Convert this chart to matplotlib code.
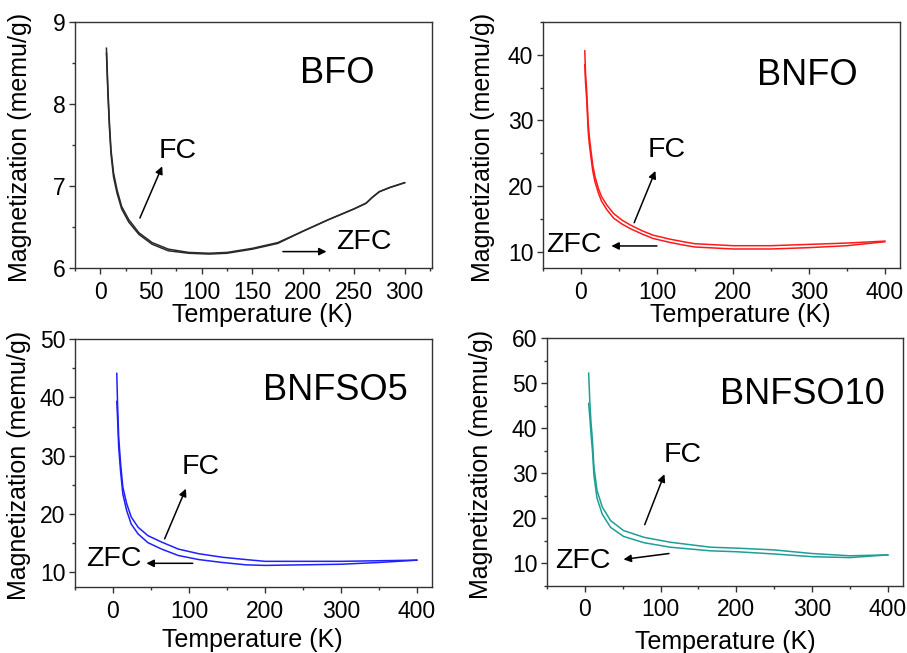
import matplotlib
matplotlib.use('Agg')
import matplotlib.pyplot as plt
from matplotlib.ticker import MultipleLocator

plt.rcParams['font.family'] = ['Liberation Sans', 'DejaVu Sans']

# BFO (black)
bfo_T = [6, 7.5, 9, 10.5, 13, 16.5, 21, 28, 38, 51, 67, 87, 107, 125, 150, 175, 200, 225, 250, 262, 268,
         275, 285, 300]
bfo_fc = [8.68, 8.17, 7.76, 7.44, 7.16, 6.95, 6.75, 6.59, 6.43, 6.31, 6.23, 6.19, 6.18, 6.19, 6.24, 6.31,
          6.45, 6.59, 6.72, 6.79, 6.86, 6.93, 6.98, 7.04]
bfo_zfc = [8.62, 8.10, 7.70, 7.39, 7.11, 6.91, 6.72, 6.56, 6.41, 6.29, 6.21, 6.18, 6.17, 6.18, 6.23, 6.30,
           6.45, 6.59, 6.72, 6.79, 6.86, 6.93, 6.98, 7.04]

# BNFO (red)
bnfo_T = [5, 6, 7.5, 8.5, 9.5, 11, 13, 15.5, 18.5, 23, 27, 34, 43, 54, 65, 80, 95, 117, 135, 150, 200, 250,
          300, 350, 400]
bnfo_fc = [40.6, 37.1, 34.6, 32.0, 29.5, 27.5, 25.5, 23.2, 21.4, 19.6, 18.4, 17.1, 15.8, 14.8, 14.05, 13.2,
           12.5, 11.9, 11.5, 11.2, 10.9, 10.9, 11.1, 11.3, 11.6]
bnfo_zfc = [38.5, 35.8, 33.2, 30.8, 28.3, 26.4, 24.5, 22.3, 20.6, 18.9, 17.7, 16.4, 15.1, 14.2, 13.5, 12.7,
            12.0, 11.4, 11.0, 10.7, 10.4, 10.4, 10.6, 10.9, 11.5]

# BNFSO5 (blue)
bnfso5_T = [5, 6, 7.5, 10, 13, 18, 24, 33, 46, 64, 86, 113, 144, 175, 200, 250, 300, 350, 400]
bnfso5_fc = [44.1, 39.0, 33.2, 28.7, 24.6, 21.8, 19.5, 17.75, 16.3, 15.2, 14.0, 13.2, 12.6, 12.2, 11.9,
             11.9, 11.9, 12.0, 12.1]
bnfso5_zfc = [39.3, 36.5, 31.5, 27.3, 23.4, 20.6, 18.3, 16.6, 15.1, 14.0, 12.9, 12.2, 11.7, 11.3, 11.2,
              11.3, 11.4, 11.7, 12.1]

# BNFSO10 (teal)
bnfso10_T = [5, 6.5, 8, 10, 12, 16, 23, 34, 51, 78, 113, 166, 200, 250, 300, 350, 400]
bnfso10_fc = [52.2, 46.0, 41.5, 37.3, 31.4, 26.2, 22.5, 19.5, 17.3, 15.8, 14.7, 13.6, 13.4, 13.0, 12.2,
              11.7, 11.9]
bnfso10_zfc = [45.5, 42.5, 39.0, 35.0, 29.5, 24.5, 20.9, 18.0, 16.0, 14.6, 13.6, 12.8, 12.6, 12.1, 11.5,
               11.3, 11.9]

W, H = 907, 653
fig = plt.figure(figsize=(W / 100, H / 100), dpi=100)


def make_ax(left, top, right, bottom):
    return fig.add_axes([left / W, 1 - bottom / H, (right - left) / W, (bottom - top) / H])


panels = [
    dict(name='BFO', T=bfo_T, fc=bfo_fc, zfc=bfo_zfc, color='#2a2a2a', box=(75, 22, 432, 268),
         xlim=(-25, 327), ylim=(6, 9), xmaj=50, ymaj=1, lab=(234, 8.37),
         fc_arr=((39, 6.61), (61, 7.24)), fc_txt=(57, 7.43),
         zfc_arr=((180, 6.2), (223, 6.2)), zfc_txt=(232, 6.32), ylx=-0.154, xl=(0.525, -0.19)),
    dict(name='BNFO', T=bnfo_T, fc=bnfo_fc, zfc=bnfo_zfc, color='#ff1a1a', box=(543, 22, 900, 268),
         xlim=(-50, 420), ylim=(7.5, 45), xmaj=100, ymaj=10, lab=(298, 36.9),
         fc_arr=((70, 14.4), (98, 22.3)), fc_txt=(88, 25.45),
         zfc_arr=((100, 10.86), (40, 10.86)), zfc_txt=(-46, 11.0), ylx=-0.168, xl=(0.552, -0.19)),
    dict(name='BNFSO5', T=bnfso5_T, fc=bnfso5_fc, zfc=bnfso5_zfc, color='#2020ff', box=(75, 339, 432, 587),
         xlim=(-50, 420), ylim=(7.5, 50), xmaj=100, ymaj=10, lab=(293, 41.2),
         fc_arr=((68, 15.75), (96, 24.35)), fc_txt=(91, 28.1),
         zfc_arr=((105, 11.56), (44, 11.56)), zfc_txt=(-36, 12.3), ylx=-0.158, xl=(0.496, -0.214)),
    dict(name='BNFSO10', T=bnfso10_T, fc=bnfso10_fc, zfc=bnfso10_zfc, color='#1f9e96', box=(547, 338, 903, 586),
         xlim=(-50, 420), ylim=(5, 60), xmaj=100, ymaj=10, lab=(287, 47.4),
         fc_arr=((79, 18.6), (105, 29.8)), fc_txt=(104, 34.0),
         zfc_arr=((111, 12.2), (51, 10.9)), zfc_txt=(-39, 10.6), ylx=-0.185, xl=(0.501, -0.225)),
]

for p in panels:
    ax = make_ax(*p['box'])
    ax.plot(p['T'], p['fc'], color=p['color'], lw=1.1, solid_joinstyle='round')
    ax.plot(p['T'], p['zfc'], color=p['color'], lw=1.1, solid_joinstyle='round')
    ax.set_xlim(*p['xlim'])
    ax.set_ylim(*p['ylim'])
    ax.xaxis.set_major_locator(MultipleLocator(p['xmaj']))
    ax.xaxis.set_minor_locator(MultipleLocator(p['xmaj'] / 2))
    ax.yaxis.set_major_locator(MultipleLocator(p['ymaj']))
    ax.yaxis.set_minor_locator(MultipleLocator(p['ymaj'] / 2))
    ax.tick_params(which='both', direction='out', top=False, right=False, labelsize=16.5, color='#333333')
    ax.tick_params(which='major', length=4, width=1.0)
    ax.tick_params(which='minor', length=2.5, width=1.0)
    ax.tick_params(axis='x', pad=5)
    ax.tick_params(axis='y', pad=3)
    for s in ax.spines.values():
        s.set_linewidth(1.0)
        s.set_color('#333333')

    ax.set_xlabel('Temperature (K)', fontsize=18)
    ax.set_ylabel('Magnetization (memu/g)', fontsize=18)
    ax.xaxis.set_label_coords(*p['xl'])
    ax.xaxis.label.set_verticalalignment('center')
    ax.yaxis.set_label_coords(p['ylx'], 0.49)
    ax.yaxis.label.set_verticalalignment('center')

    ax.text(*p['lab'], p['name'], fontsize=26, ha='center', va='center')
    arr = dict(arrowstyle='-|>', color='black', lw=1.1, mutation_scale=11, shrinkA=0, shrinkB=0)
    ax.annotate('', xy=p['fc_arr'][1], xytext=p['fc_arr'][0], arrowprops=arr)
    ax.annotate('', xy=p['zfc_arr'][1], xytext=p['zfc_arr'][0], arrowprops=arr)
    ax.text(*p['fc_txt'], 'FC', fontsize=20.5, ha='left', va='center')
    ax.text(*p['zfc_txt'], 'ZFC', fontsize=20.5, ha='left', va='center')

plt.savefig('out.png', dpi=100)
